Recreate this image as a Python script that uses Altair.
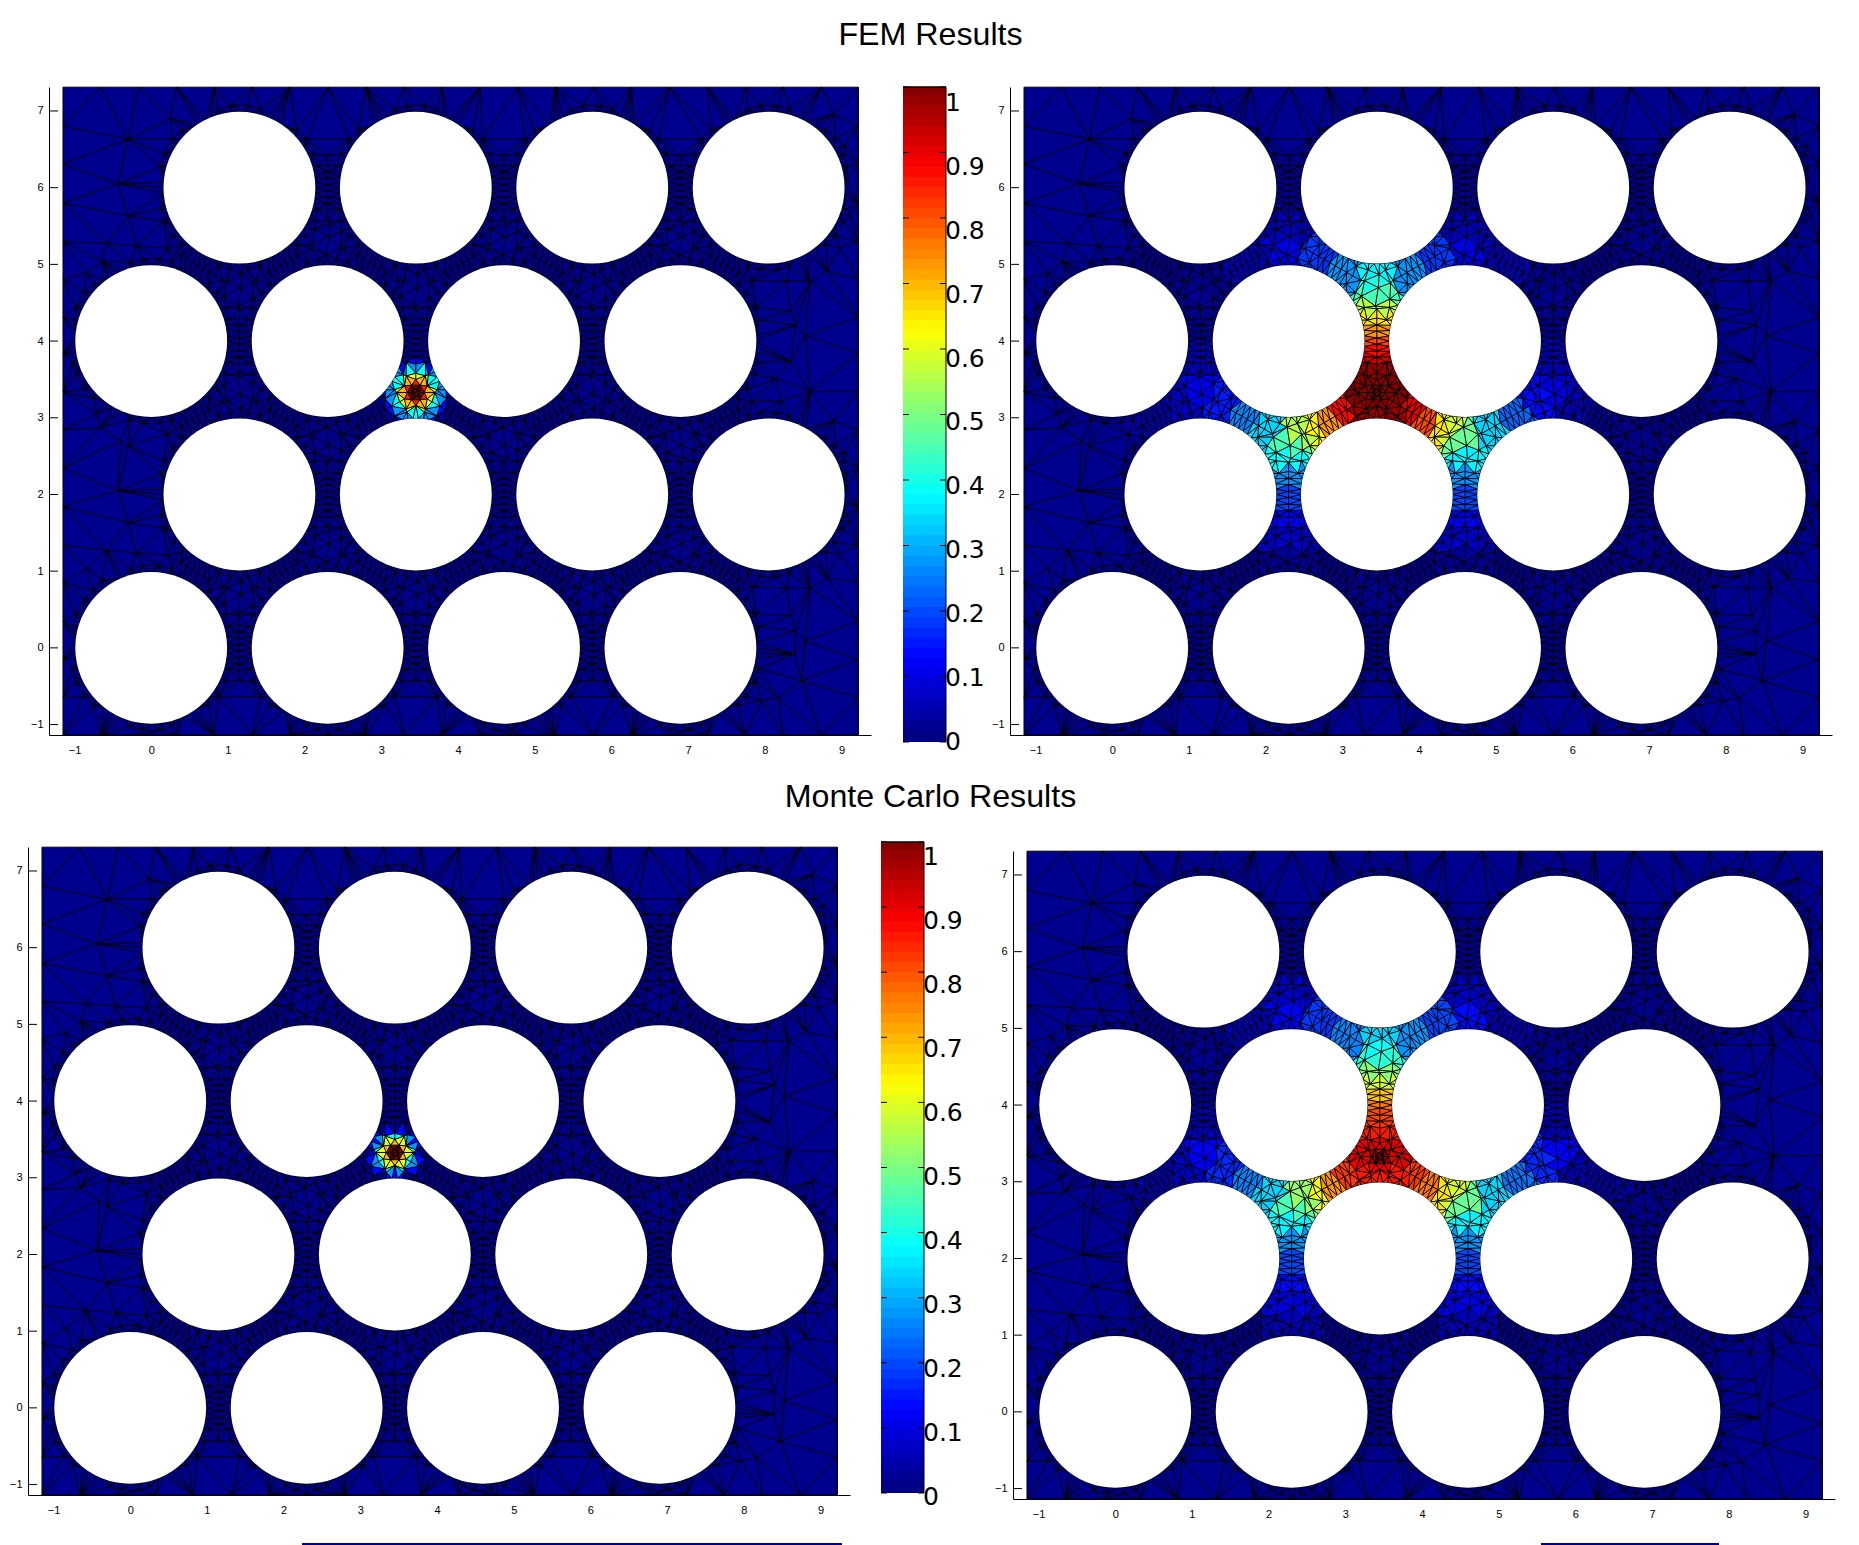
import math
import numpy as np
import pandas as pd
import altair as alt

# ---- values ----
COL_A = [0.0, 2.3, 4.6, 6.9]
COL_B = [1.15, 3.45, 5.75, 8.05]
ROWS_A = [0.0, 4.0]
ROWS_B = [2.0, 6.0]
RADIUS = 0.99
XMIN, XMAX, YMIN, YMAX = -1.15, 9.22, -1.136, 7.31
EDGE_X = [-1.15,-0.656,-0.162,0.332,0.826,1.32,1.81,2.31,2.80,3.30,3.79,4.29,4.78,5.27,5.77,6.26,6.76,7.25,7.75,8.24,8.74,9.22]
EDGE_Y = [-1.136,-0.65,-0.15,0.35,0.85,1.34,1.84,2.34,2.84,3.34,3.84,4.31,4.81,5.30,5.80,6.31,6.80,7.31]
# mesh nodes of the open outer regions
OUTER_X = [-0.30,-0.43,-0.30,-0.58,-0.19,-0.84,-0.64,0.25,-0.95,-0.66,-0.40,-0.71,
           -0.30,-0.43,-0.30,-0.58,-0.19,-0.84,-0.64,
           8.34,8.53,8.40,8.34,8.14,8.59,8.22,8.90,9.05,9.07,9.11,8.98,8.81,8.59,8.29,8.34,8.40,8.53,8.39,8.48,8.17,7.96,
           8.90,9.05,9.07,9.11,8.98,8.81,8.59,8.29]
OUTER_Y = [6.63,6.05,5.63,5.27,5.24,4.89,5.04,6.90,3.61,2.87,2.70,3.05,
           2.63,2.05,1.63,1.27,1.24,1.04,0.89,
           4.39,4.07,4.21,3.73,3.51,3.34,3.22,2.96,2.55,2.09,1.63,1.22,0.91,0.78,0.78,0.42,0.22,0.09,-0.08,-0.43,-0.65,-0.69,
           6.96,6.55,6.09,5.63,5.22,4.91,4.78,4.78]
RIM_DEG = [0,4,8,12,16,20,24,28,32,36,40,44,48,52,56]   # rim nodes in one 60 degree sector
RIM2_DEG = [15,24,36,45]                      # second ring in the same sector
RIM2_R = [1.06,1.08,1.08,1.06]
GAP_V = [-0.42,-0.30,-0.21,-0.13,-0.04,0.04,0.13,0.21,0.30,0.42]   # nodes along a gap's mid-line
JUNCTION_DX = [0.02,-0.02,0.18,-0.16,0.03,-0.20,0.17]
JUNCTION_DY = [0.03,-0.21,0.09,0.12,0.20,-0.08,-0.12]
CORE = (3.45,3.33)
CORE_DX = [.05,-.05,.025,-.025,.025,-.025,.11,-.11,.055,-.055,.055,-.055,0,0,.147,-.147,.147,-.147,.25,-.25,.125,-.125,.125,-.125]
CORE_DY = [0,0,.043,.043,-.043,-.043,0,0,.095,.095,-.095,-.095,.17,-.17,.085,.085,-.085,-.085,0,0,.216,.216,-.216,-.216]

# field samples of the right hand panels
SAMPLE_X = [3.45,3.45,3.22,3.68,3.45,3.22,3.68,3.45,
            3.45,3.45,3.45,3.45,3.45,3.45,3.45,3.45,3.45,3.45,
            3.05,3.85,2.64,4.26,2.25,4.65,2.3,4.6,2.3,4.6,1.85,5.05,
            2.99,2.77,2.64,2.46,2.33,2.29,2.31,2.31,2.31,2.31,2.31,
            1.98,1.77,1.46,1.16,1.10,1.10,0.85,0.55,
            3.94,4.12,4.29,4.38,4.55,4.64,4.60,4.60,4.60,4.60,4.60,
            4.95,5.24,5.50,5.80,5.80,5.80,6.10,6.40]
SAMPLE_Y = [3.33,3.48,3.30,3.30,3.17,3.12,3.12,3.03,
            3.64,3.77,3.90,4.01,4.14,4.29,4.42,4.60,4.77,4.90,
            4.90,4.90,5.10,5.10,5.15,5.15,5.45,5.45,5.80,5.80,5.05,5.05,
            3.12,2.95,2.90,2.81,2.64,2.47,2.21,1.95,1.68,1.42,1.15,
            2.86,3.04,3.25,3.42,3.76,4.20,3.20,3.10,
            3.12,2.95,2.87,2.85,2.72,2.47,2.21,1.95,1.68,1.42,1.15,
            2.85,3.05,3.30,3.42,3.80,4.20,3.20,3.10]
FEM_V = [1.00,1.00,1.00,1.00,1.00,0.98,0.98,0.98,
         0.97,0.92,0.87,0.80,0.72,0.65,0.55,0.45,0.40,0.36,
         0.27,0.27,0.18,0.18,0.10,0.10,0.06,0.06,0.03,0.03,0.05,0.05,
         0.87,0.72,0.63,0.55,0.45,0.38,0.28,0.20,0.12,0.07,0.03,
         0.33,0.25,0.15,0.10,0.06,0.03,0.07,0.04,
         0.90,0.80,0.65,0.58,0.47,0.37,0.28,0.20,0.12,0.07,0.03,
         0.33,0.22,0.14,0.09,0.05,0.03,0.06,0.03]
MC_V  = [0.98,0.90,0.90,0.90,0.88,0.85,0.85,0.85,
         0.85,0.82,0.80,0.75,0.68,0.58,0.50,0.42,0.38,0.34,
         0.26,0.27,0.18,0.20,0.12,0.13,0.07,0.07,0.03,0.03,0.05,0.05,
         0.82,0.72,0.62,0.52,0.45,0.37,0.28,0.20,0.14,0.10,0.05,
         0.33,0.25,0.17,0.12,0.06,0.03,0.07,0.04,
         0.82,0.75,0.65,0.58,0.47,0.37,0.28,0.20,0.14,0.10,0.05,
         0.33,0.24,0.16,0.11,0.06,0.03,0.06,0.04]
# the small spot of the left hand panels: outer radius of each ring and its value
SPOT_V = [1.00,0.85,0.70,0.60,0.38,0.28,0.14]
SPOT_FEM_R = [0.11,0.15,0.19,0.24,0.30,0.36,0.44]
SPOT_MC_R = [0.08,0.12,0.15,0.19,0.24,0.28,0.34]

X_TICKS = [-1,0,1,2,3,4,5,6,7,8,9]
Y_TICKS = [-1,0,1,2,3,4,5,6,7]
BAR_TICKS = [0,0.1,0.2,0.3,0.4,0.5,0.6,0.7,0.8,0.9,1]
BAR_LABELS = ["0","0.1","0.2","0.3","0.4","0.5","0.6","0.7","0.8","0.9","1"]
TITLE_1, TITLE_2 = "FEM Results", "Monte Carlo Results"
BOTTOM_X = [294,1533]
BOTTOM_X2 = [834,1711]

BASE = "#00008F"
def jet(t):
    c = lambda a: int(round(255*min(1.0,max(0.0,a))))
    return "#%02x%02x%02x" % (c(min(4*t-1.5,-4*t+4.5)), c(min(4*t-0.5,-4*t+3.5)), c(min(4*t+0.5,-4*t+2.5)))
JET = [jet((i+0.5)/64) for i in range(64)]
COLOR_SCALE = alt.Scale(type="quantize", domain=[0,1], range=JET)

# ---- mesh ----
centres = [(x,y) for y in ROWS_A for x in COL_A] + [(x,y) for y in ROWS_B for x in COL_B]
pts = []
pts += centres
sector = 60.0
for cx,cy in centres:
    for k in range(6):
        for d in RIM_DEG:
            a = math.radians(k*sector+d)
            pts.append((cx+RADIUS*math.cos(a), cy+RADIUS*math.sin(a)))
        for d,r in zip(RIM2_DEG,RIM2_R):
            a = math.radians(k*sector+d)
            pts.append((cx+r*math.cos(a), cy+r*math.sin(a)))
n = len(centres)
nbr = {i:[j for j in range(n) if j!=i and math.dist(centres[i],centres[j])<2.4] for i in range(n)}
for i in range(n):
    for j in nbr[i]:
        if j>i:
            ax,ay = centres[i]; bx,by = centres[j]
            mx,my = (ax+bx)/2,(ay+by)/2
            L = math.dist(centres[i],centres[j])
            nx,ny = -(by-ay)/L,(bx-ax)/L
            for v in GAP_V:
                pts.append((mx+nx*v,my+ny*v))
            for k in nbr[j]:
                if k>j and k in nbr[i]:
                    jx = (ax+bx+centres[k][0])/3; jy = (ay+by+centres[k][1])/3
                    if math.dist((jx,jy),CORE) < 0.2:
                        continue
                    flip = 1 if sum(c[1] for c in (centres[i],centres[j],centres[k]))/3 > jy-1e-9 and centres[k][1]>jy else -1
                    for dx,dy in zip(JUNCTION_DX,JUNCTION_DY):
                        pts.append((jx+dx,jy+flip*dy))
pts += [(CORE[0]+dx,CORE[1]+dy) for dx,dy in zip(CORE_DX,CORE_DY)]
pts += list(zip(OUTER_X,OUTER_Y))
pts = [p for p in pts if XMIN<p[0]<XMAX and YMIN<p[1]<YMAX]
pts += [(x,YMIN) for x in EDGE_X] + [(x,YMAX) for x in EDGE_X]
pts += [(XMIN,y) for y in EDGE_Y[1:-1]] + [(XMAX,y) for y in EDGE_Y[1:-1]]

def circum(a,b,c):
    ax,ay=a;bx,by=b;cx,cy=c
    d=2*(ax*(by-cy)+bx*(cy-ay)+cx*(ay-by))
    if abs(d)<1e-14: d=1e-14
    ux=((ax*ax+ay*ay)*(by-cy)+(bx*bx+by*by)*(cy-ay)+(cx*cx+cy*cy)*(ay-by))/d
    uy=((ax*ax+ay*ay)*(cx-bx)+(bx*bx+by*by)*(ax-cx)+(cx*cx+cy*cy)*(bx-ax))/d
    return ux,uy,(ax-ux)**2+(ay-uy)**2

def triangulate(points):
    # nudges of a millionth of a unit only keep exact co-circular nodes from tying
    P = [(p[0]+1e-6*math.sin(i*1.7),p[1]+1e-6*math.cos(i*2.3)) for i,p in enumerate(points)]
    N = len(P)
    P += [(-200.0,-200.0),(300.0,-200.0),(50.0,300.0)]
    tri = np.array([[N,N+1,N+2]],dtype=int)
    cc = np.array([circum(P[N],P[N+1],P[N+2])])
    for i in range(N):
        x,y = P[i]
        bad = (cc[:,0]-x)**2+(cc[:,1]-y)**2 < cc[:,2]
        count = {}
        for t in tri[bad]:
            for a,b in ((t[0],t[1]),(t[1],t[2]),(t[2],t[0])):
                key=(a,b) if a<b else (b,a)
                count[key]=count.get(key,0)+1
        new=[(a,b,i) for (a,b),m in count.items() if m==1]
        tri=np.vstack([tri[~bad],np.array(new,dtype=int)])
        cc=np.vstack([cc[~bad],np.array([circum(P[a],P[b],P[c]) for a,b,c in new])])
    return tri[(tri<N).all(axis=1)]

tris = triangulate(pts)
P = np.array(pts)
C = P[tris].mean(axis=1)
cen = np.array(centres)
inside = (np.hypot(C[:,0,None]-cen[:,0],C[:,1,None]-cen[:,1]) < RADIUS-0.005).any(axis=1)
tris = tris[~inside]
C = C[~inside]

edge_set = set()
for t in tris:
    for a,b in ((t[0],t[1]),(t[1],t[2]),(t[2],t[0])):
        edge_set.add((min(a,b),max(a,b)))
edges = pd.DataFrame([{"x":round(P[a,0],3),"y":round(P[a,1],3),"x2":round(P[b,0],3),"y2":round(P[b,1],3)} for a,b in edge_set])

def field_samples(values):
    sx,sy,sv = np.array(SAMPLE_X),np.array(SAMPLE_Y),np.array(values)
    d = np.hypot(C[:,0,None]-sx,C[:,1,None]-sy)
    j = d.argmin(axis=1)
    return np.where(d.min(axis=1)<0.42,sv[j],0.0)

def field_spot(radii):
    r = np.hypot(C[:,0]-CORE[0],C[:,1]-CORE[1])
    out = np.zeros(len(C))
    for rr,v in list(zip(radii,SPOT_V))[::-1]:
        out[r<rr]=v
    return out

def tri_table(vals):
    rows=[]
    for k,(t,v) in enumerate(zip(tris,vals)):
        if v>0.012:
            for o,a in enumerate(t):
                rows.append({"t":k,"o":o,"x":round(P[a,0],3),"y":round(P[a,1],3),"v":float(v)})
    return pd.DataFrame(rows)

DUMMY = pd.DataFrame({"a":[0]})
def spacer(w=1,h=1):
    return alt.Chart(DUMMY).mark_point(size=0,opacity=0).encode(x=alt.value(0),y=alt.value(0)).properties(width=w,height=h)

PX = 76.7
W, H = 822, 648
def panel(vals, axis_gap=14):
    x0 = XMIN - axis_gap/PX
    xs = alt.Scale(domain=[x0, x0+W/PX], nice=False, zero=False)
    ys = alt.Scale(domain=[YMIN, YMIN+H/PX], nice=False, zero=False)
    ax = dict(grid=False,ticks=False,title=None,domainColor="black",domainWidth=1,labelFont="Liberation Sans",labelFontSize=11,labelColor="black",format="d")
    X = alt.X("x:Q",scale=xs,axis=alt.Axis(values=X_TICKS,labelPadding=9,**ax))
    Y = alt.Y("y:Q",scale=ys,axis=alt.Axis(values=Y_TICKS,labelPadding=6,**ax))
    bg = alt.Chart(pd.DataFrame({"x":[XMIN],"x2":[XMAX],"y":[YMIN],"y2":[YMAX]})).mark_rect(color=BASE).encode(X,alt.X2("x2"),Y,alt.Y2("y2"))
    fill = alt.Chart(tri_table(vals)).mark_line(filled=True,interpolate="linear-closed",strokeWidth=0).encode(
        X,Y,alt.Color("v:Q",scale=COLOR_SCALE,legend=None),alt.Detail("t:N"),alt.Order("o:Q"))
    mesh = alt.Chart(edges).mark_rule(color="black",strokeWidth=1).encode(X,Y,alt.X2("x2"),alt.Y2("y2"))
    circ = alt.Chart(pd.DataFrame({"x":cen[:,0],"y":cen[:,1]})).mark_circle(color="white",opacity=1,size=(2*RADIUS*PX)**2).encode(X,Y)
    ticks = alt.Chart(pd.DataFrame({"y":Y_TICKS})).mark_rule(color="black").encode(Y,x=alt.value(0),x2=alt.value(9))
    border = alt.Chart(pd.DataFrame({"x":[XMAX],"y":[YMIN],"y2":[YMAX]})).mark_rule(color="black").encode(X,Y,alt.Y2("y2"))
    return alt.layer(bg,fill,mesh,circ,ticks,border).properties(width=W,height=H)

def colorbar(h, label_dom):
    bars = pd.DataFrame({"lo":[i/64 for i in range(64)],"hi":[min(1,(i+1.2)/64) for i in range(64)],"m":[(i+.5)/64 for i in range(64)]})
    Yb = alt.Scale(domain=[0,1],nice=False,zero=False)
    b = alt.Chart(bars).mark_rect().encode(alt.Y("lo:Q",scale=Yb,axis=None),alt.Y2("hi"),alt.Color("m:Q",scale=COLOR_SCALE,legend=None),alt.Order("m:Q",sort="descending"))
    td = pd.DataFrame({"t":BAR_TICKS})
    t1 = alt.Chart(td).mark_rule(color="black").encode(alt.Y("t:Q",scale=Yb,axis=None),x=alt.value(0),x2=alt.value(6))
    t2 = alt.Chart(td).mark_rule(color="black").encode(alt.Y("t:Q",scale=Yb,axis=None),x=alt.value(37),x2=alt.value(43))
    right = alt.Chart(DUMMY).mark_rule(color="black").encode(x=alt.value(43),y=alt.value(0),y2=alt.value(h))
    top = alt.Chart(DUMMY).mark_rule(color="black",strokeWidth=1.5).encode(y=alt.value(0),x=alt.value(0),x2=alt.value(43))
    lab = alt.Chart(pd.DataFrame({"t":BAR_TICKS,"s":BAR_LABELS})).mark_text(align="left",baseline="middle",font="DejaVu Sans",fontSize=25,color="black").encode(
        alt.Y("t:Q",scale=alt.Scale(domain=label_dom,nice=False,zero=False),axis=None),x=alt.value(42),text="s:N")
    return alt.layer(alt.layer(b,t1,t2,right,top),lab).resolve_scale(y="independent").properties(width=43,height=h)

def title_strip(text, h, y):
    return alt.Chart(pd.DataFrame({"s":[text]})).mark_text(font="Liberation Sans",fontSize=32.2,color="black",baseline="middle",align="center").encode(
        text="s:N",x=alt.value(922.5),y=alt.value(y)).properties(width=1843,height=h)

def cell(c, off):
    return alt.vconcat(spacer(1,off),c,spacing=0) if off>0 else c

row1 = alt.hconcat(spacer(21.2,1),panel(field_spot(SPOT_FEM_R)),spacer(30.6,1),colorbar(655,[0,1.025]),spacer(5.6,1),
                   panel(field_samples(FEM_V)),spacing=0)
row2 = alt.hconcat(spacer(0.1,1),cell(panel(field_spot(SPOT_MC_R)),3.5),spacer(29.6,1),colorbar(651,[0.006,1.023]),spacer(31,1),
                   cell(panel(field_samples(MC_V)),8),spacing=0)
foot = alt.Chart(pd.DataFrame({"x":BOTTOM_X,"x2":BOTTOM_X2})).mark_rule(color=BASE,strokeWidth=2).encode(
    alt.X("x:Q",scale=alt.Scale(domain=[0,1843],nice=False),axis=None),alt.X2("x2"),y=alt.value(0)).properties(width=1843,height=1)

chart = alt.vconcat(title_strip(TITLE_1,78,26.5),row1,title_strip(TITLE_2,86,41.5),row2,spacer(1,24),foot,spacing=0).properties(padding=0,background="white").configure_view(stroke=None)
chart.save("out.html", embed_options={"renderer": "svg", "actions": False})
